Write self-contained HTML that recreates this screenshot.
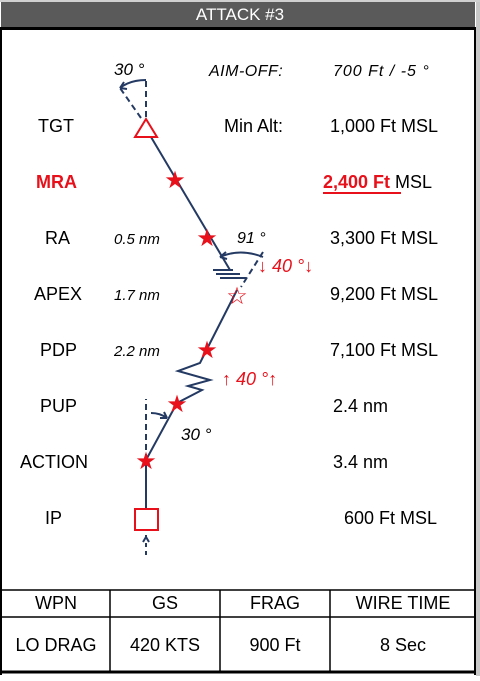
<!DOCTYPE html>
<html><head><meta charset="utf-8"><style>
html,body{margin:0;padding:0;background:#fff;}
body{width:480px;height:676px;overflow:hidden;font-family:"Liberation Sans",sans-serif;}
</style></head><body>
<svg width="480" height="676" viewBox="0 0 480 676" xmlns="http://www.w3.org/2000/svg" font-family="Liberation Sans, sans-serif">
<rect x="476" y="0" width="4" height="676" fill="#c8c8c8"/>
<rect x="0" y="0" width="480" height="2" fill="#d0d0d0"/>
<rect x="1" y="2" width="474" height="25" fill="#5a5a5a"/>
<text x="240" y="20" text-anchor="middle" fill="#fff" font-size="17">ATTACK #3</text>
<rect x="0" y="27" width="476" height="3" fill="#000"/>
<rect x="0" y="27" width="2" height="648" fill="#000"/>
<rect x="474" y="27" width="2" height="648" fill="#000"/>
<g font-size="18" fill="#000">
<text x="114" y="75" font-style="italic" font-size="17">30 °</text>
<text x="209" y="76" font-style="italic" font-size="16" letter-spacing="0.5">AIM-OFF:</text>
<text x="333" y="76" font-style="italic" font-size="16" letter-spacing="1">700 Ft /  -5 °</text>
<text x="38" y="132">TGT</text>
<text x="224" y="132">Min Alt:</text>
<text x="330" y="132">1,000 Ft MSL</text>
<text x="36" y="188" fill="#e8101a" font-weight="bold">MRA</text>
<text x="323" y="188"><tspan fill="#e8101a" font-weight="bold">2,400 Ft</tspan> MSL</text>
<rect x="323" y="192" width="78" height="2" fill="#e8101a"/>
<text x="45" y="244">RA</text>
<text x="114" y="244" font-style="italic" font-size="15">0.5 nm</text>
<text x="237" y="243" font-style="italic" font-size="16">91 °</text>
<text x="330" y="244">3,300 Ft MSL</text>
<text x="34" y="300">APEX</text>
<text x="114" y="300" font-style="italic" font-size="15">1.7 nm</text>
<text x="330" y="300">9,200 Ft MSL</text>
<text x="40" y="356">PDP</text>
<text x="114" y="356" font-style="italic" font-size="15">2.2 nm</text>
<text x="330" y="356">7,100 Ft MSL</text>
<text x="40" y="412">PUP</text>
<text x="333" y="412">2.4 nm</text>
<text x="20" y="468">ACTION</text>
<text x="181" y="440" font-style="italic" font-size="17">30 °</text>
<text x="333" y="468">3.4 nm</text>
<text x="45" y="524">IP</text>
<text x="344" y="524">600 Ft MSL</text>
<text x="258" y="272" fill="#e8101a" font-style="italic" font-size="18">↓ 40 °↓</text>
<text x="222" y="385" fill="#e8101a" font-style="italic" font-size="18">↑ 40 °↑</text>
</g>
<g stroke="#243a63" stroke-width="2" fill="none">
<line x1="151" y1="137" x2="230" y2="270"/>
<path d="M213 270 H233 M216 274 H240 M220 278 H246"/>
<line x1="237" y1="290" x2="207" y2="349"/>
<path d="M207 349 L200 363 L178 371 L210 380 L188 386 L202 390 L177 403 L146 460 L146 509"/>
<g stroke-dasharray="6,4">
<line x1="146" y1="117" x2="146" y2="78"/>
<line x1="141" y1="118" x2="120" y2="88"/>
<line x1="263" y1="252" x2="241" y2="287"/>
<line x1="146" y1="460" x2="146" y2="399"/>
<line x1="146" y1="535" x2="146" y2="556" stroke-dasharray="4,4"/>
</g>
<path d="M146 80 Q130 80 120 88"/>
<path d="M120 88 l4 -6 M120 88 l7 1"/>
<path d="M263 257 Q240 248 220 257"/>
<path d="M220 257 l6 -5 M220 257 l7 2"/>
<path d="M151 413 Q160 413 167 418"/>
<path d="M167 418 l-7 0 M167 418 l-3 -6"/>
<path d="M146 537 l-3 5 M146 537 l3 5"/>
</g>
<polygon points="146,119 135,137 157,137" fill="none" stroke="#e8101a" stroke-width="2"/>
<rect x="135" y="509" width="23" height="21" fill="#fff" stroke="#e8101a" stroke-width="2"/>
<g fill="#e8101a" font-size="24" text-anchor="middle">
<text x="175" y="188">★</text>
<text x="207" y="246">★</text>
<text x="237" y="304">☆</text>
<text x="207" y="358">★</text>
<text x="177" y="412">★</text>
<text x="146" y="469">★</text>
</g>
<g stroke="#000" stroke-width="1.5">
<line x1="0" y1="590" x2="476" y2="590"/>
<line x1="0" y1="617" x2="476" y2="617"/>
<line x1="0" y1="672" x2="476" y2="672" stroke-width="3"/>
<line x1="110" y1="590" x2="110" y2="672"/>
<line x1="220" y1="590" x2="220" y2="672"/>
<line x1="330" y1="590" x2="330" y2="672"/>
</g>
<g font-size="18" fill="#000" text-anchor="middle">
<text x="56" y="609">WPN</text>
<text x="165" y="609">GS</text>
<text x="275" y="609">FRAG</text>
<text x="403" y="609">WIRE TIME</text>
<text x="56" y="651">LO DRAG</text>
<text x="165" y="651">420 KTS</text>
<text x="275" y="651">900 Ft</text>
<text x="403" y="651">8 Sec</text>
</g>
</svg>
</body></html>
